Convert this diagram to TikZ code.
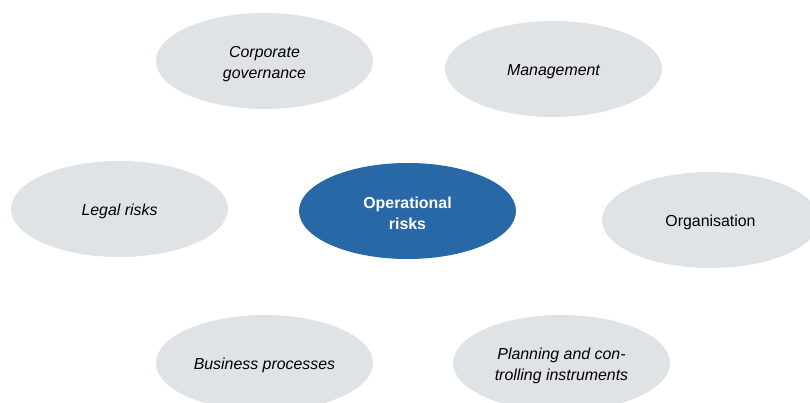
\documentclass[tikz,border=0pt]{standalone}
\usepackage{fontspec}
\setmainfont{Liberation Sans}
\usetikzlibrary{shapes.geometric}
\definecolor{risikogrey}{RGB}{223,227,230}
\definecolor{risikoblue}{RGB}{41,104,166}
\newcommand{\zeilehoch}{\rule{0pt}{16.6pt}}

\begin{document}
\begin{tikzpicture}[x=1pt,y=-1pt,
	bubble/.style={ellipse,fill=risikogrey,minimum width=217pt,minimum height=96pt,
		inner sep=0pt,align=center,execute at begin node={\zeilehoch},
		font=\fontsize{15.9}{21}\selectfont\itshape},
	kern/.style={bubble,fill=risikoblue,text=white,font=\fontsize{15.9}{21}\selectfont\bfseries}]

% rahmen
\useasboundingbox (0,0) rectangle (810,403);
\clip (0,0) rectangle (810,403);

% mitte
\node[kern] (oprisk) at (407.5,211) {\zeilehoch Operational\\risks};

% aeussere ellipsen
\node[bubble] (corpgov) at (264.5,61) {\zeilehoch Corporate\\governance};
\node[bubble] (mgmt) at (553.5,69) {Management};
\node[bubble] (legal) at (119.5,209) {Legal risks};
\node[bubble,font=\fontsize{15.9}{21}\selectfont] (orga) at (710.5,220) {Organisation};
\node[bubble] (bizproc) at (264.5,363) {Business processes};
\node[bubble] (planning) at (561.5,363) {\zeilehoch Planning and con-\\trolling instruments};

\end{tikzpicture}
\end{document}
